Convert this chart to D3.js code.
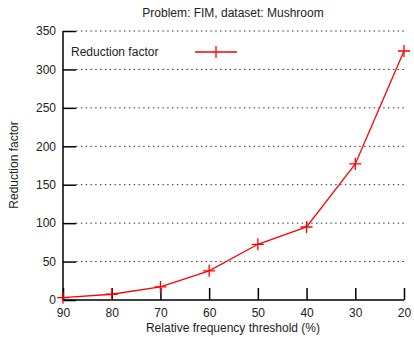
<!DOCTYPE html>
<html>
<head>
<meta charset="utf-8">
<script src="https://cdn.jsdelivr.net/npm/d3@7"></script>
<style>
  html, body { margin: 0; padding: 0; background: #fff; }
  svg { display: block; font-family: "Liberation Sans", Arial, sans-serif; }
</style>
</head>
<body>
<svg id="chart" width="414" height="337"></svg>
<script>
// 数据
const thresholds = [90, 80, 70, 60, 50, 40, 30, 20];
const reduction = [3, 7.5, 17, 38, 72.5, 95, 177, 324];
const yTicks = [0, 50, 100, 150, 200, 250, 300, 350];

const W = 414, H = 337;
const margin = { left: 63, right: 10, top: 31, bottom: 37 };
const fontSize = 12;

const svg = d3.select('#chart');

const x = d3.scaleLinear().domain([90, 20]).range([margin.left, W - margin.right]);
const y = d3.scaleLinear().domain([0, 350]).range([H - margin.bottom, margin.top]);

// 网格线
svg.append('g')
  .selectAll('line')
  .data(yTicks.filter(d => d > 0))
  .enter().append('line')
  .attr('x1', margin.left + 13).attr('x2', W - margin.right)
  .attr('y1', d => y(d)).attr('y2', d => y(d))
  .attr('stroke', '#333').attr('stroke-width', 1)
  .attr('stroke-dasharray', '1.5,3.3');

// y 轴
const yAxis = svg.append('g')
  .attr('transform', `translate(${margin.left},0)`)
  .call(d3.axisLeft(y).tickValues(yTicks).tickSize(-13).tickPadding(7));
yAxis.select('.domain').remove();
yAxis.selectAll('.tick line').attr('stroke', '#000').attr('stroke-width', 1.5);
yAxis.selectAll('.tick text').attr('font-size', fontSize).attr('fill', '#222').attr('font-family', 'Liberation Sans, Arial, sans-serif');

// x 轴
const xAxis = svg.append('g')
  .attr('transform', `translate(0,${y(0)})`)
  .call(d3.axisBottom(x).tickValues(thresholds).tickSize(-12).tickPadding(8));
xAxis.select('.domain').remove();
xAxis.selectAll('.tick line').attr('stroke', '#000').attr('stroke-width', 1.5);
xAxis.selectAll('.tick text').attr('font-size', fontSize).attr('fill', '#222').attr('font-family', 'Liberation Sans, Arial, sans-serif');

// 边框 (左 + 底)
svg.append('path')
  .attr('d', `M${margin.left},${y(350)}V${y(0)}H${W - margin.right}`)
  .attr('fill', 'none').attr('stroke', '#000').attr('stroke-width', 1.5);

// 折线
const line = d3.line()
  .x((d, i) => x(thresholds[i]))
  .y(d => y(d));
svg.append('path')
  .datum(reduction)
  .attr('d', line)
  .attr('fill', 'none').attr('stroke', '#f00').attr('stroke-width', 1.3);

// 标记 +
const plus = 6;
svg.append('g')
  .selectAll('path')
  .data(reduction)
  .enter().append('path')
  .attr('d', (d, i) => {
    const cx = x(thresholds[i]), cy = y(d);
    return `M${cx - plus},${cy}H${cx + plus}M${cx},${cy - plus}V${cy + plus}`;
  })
  .attr('stroke', '#f00').attr('stroke-width', 1.3).attr('fill', 'none');

// 图例
svg.append('text')
  .attr('x', 71).attr('y', 56)
  .attr('font-size', fontSize).attr('fill', '#222')
  .text('Reduction factor');
svg.append('path')
  .attr('d', `M195,52H237M216,${52 - plus}V${52 + plus}`)
  .attr('stroke', '#f00').attr('stroke-width', 1.3);

// 标题与轴标签
svg.append('text')
  .attr('x', 233).attr('y', 17).attr('text-anchor', 'middle')
  .attr('font-size', fontSize).attr('fill', '#222')
  .text('Problem: FIM, dataset: Mushroom');
svg.append('text')
  .attr('x', 233).attr('y', 332).attr('text-anchor', 'middle')
  .attr('font-size', fontSize).attr('fill', '#222')
  .text('Relative frequency threshold (%)');
svg.append('text')
  .attr('transform', 'translate(18,165) rotate(-90)')
  .attr('text-anchor', 'middle')
  .attr('font-size', fontSize).attr('fill', '#222')
  .text('Reduction factor');
</script>
</body>
</html>
